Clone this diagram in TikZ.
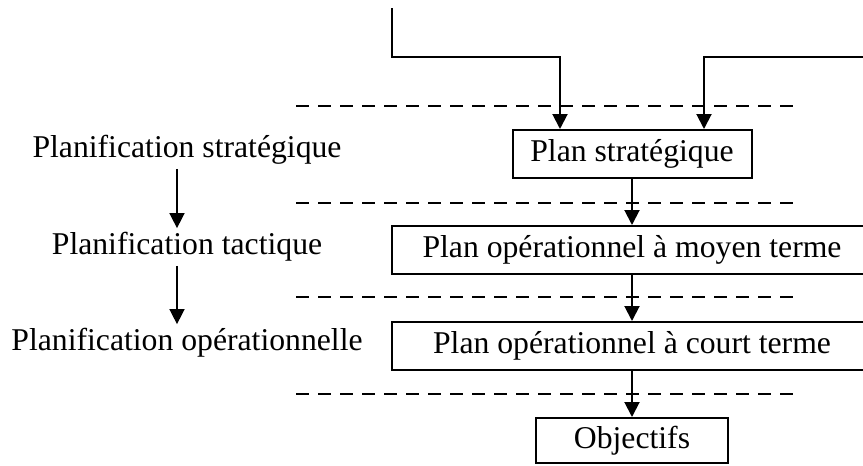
\documentclass[tikz,border=0pt]{standalone}
\usepackage{fontspec}
\setmainfont{Liberation Serif}
\usetikzlibrary{arrows.meta,positioning}

\begin{document}
\begin{tikzpicture}[x=1pt, y=-1pt, line width=2pt, >={Triangle[length=15pt,width=15pt]},
  every node/.style={font=\fontsize{31.7}{38}\selectfont},
  planbox/.style={draw, line width=2pt, minimum height=48pt, inner sep=0pt},
  levelsep/.style={dash pattern=on 13pt off 9pt, line width=2pt}]
\clip (0,0) rectangle (863,466);
\node[planbox, minimum width=239pt] (strat) at (632,154) {Plan stratégique};
\node[planbox, minimum width=480pt] (moyen) at (632,250) {Plan opérationnel à moyen terme};
\node[planbox, minimum width=480pt] (court) at (632,346) {Plan opérationnel à court terme};
\node[planbox, minimum width=192pt, minimum height=45pt] (obj) at (632,440.5) {Objectifs};
\node (lstrat) at (187,150) {Planification stratégique};
\node (ltact) at (187,247) {Planification tactique};
\node (lop) at (187,343) {Planification opérationnelle};
\foreach \y in {106,203,297,394}
  \draw[levelsep] (296,\y) -- (795,\y);
\coordinate (in1) at (392,8);
\coordinate (in2) at (880,57);
\coordinate (s1) at ([xshift=-72pt]strat.north);
\coordinate (s2) at ([xshift=72pt]strat.north);
\draw[->] (in1) -- (in1 |- in2) -| (s1);
\draw[->] (in2) -| (s2);
\draw[->] (strat) -- (moyen);
\draw[->] (moyen) -- (court);
\draw[->] (court) -- (obj);
\draw[->, line width=1.5pt] ([xshift=-10pt]lstrat.south) -- ([xshift=-10pt]ltact.north);
\draw[->, line width=1.5pt] ([xshift=-10pt]ltact.south) -- ([xshift=-10pt]lop.north);
\end{tikzpicture}
\end{document}
